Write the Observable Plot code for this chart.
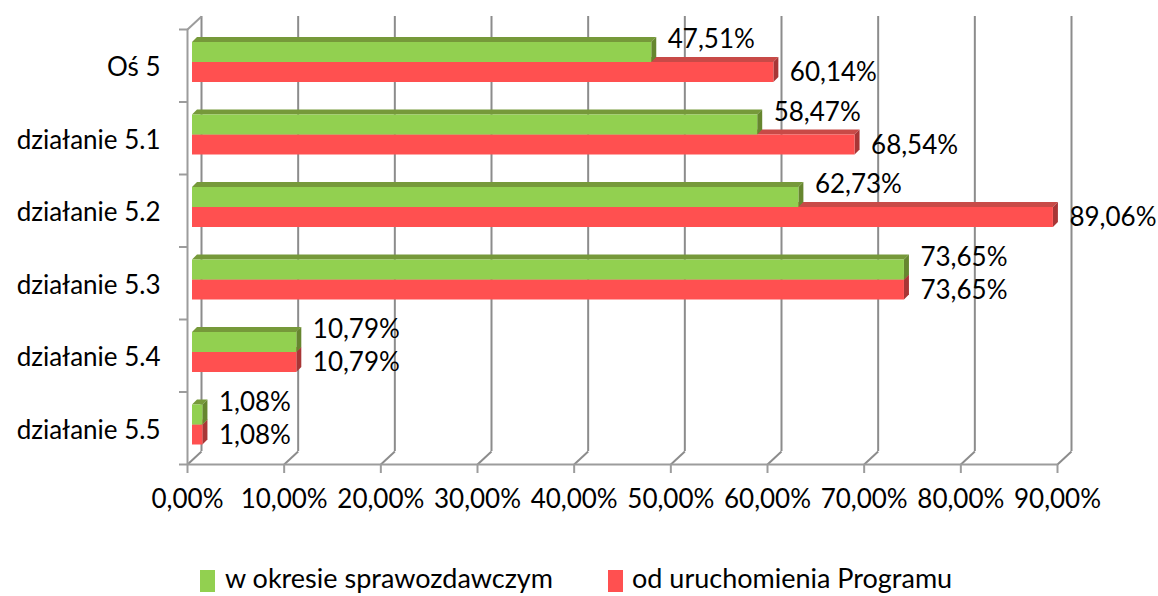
<!DOCTYPE html>
<html><head><meta charset="utf-8">
<script src="https://cdn.jsdelivr.net/npm/d3@7"></script>
<script src="https://cdn.jsdelivr.net/npm/@observablehq/plot@0.6"></script>
<style>
body{margin:0;background:#fff;font-family:Lato,sans-serif;}
#wrap{position:relative;width:1158px;height:596px;overflow:hidden;background:#fff;}
#chart{position:absolute;left:0;top:0;}
.sw{position:absolute;width:15px;height:22px;}
.lt{position:absolute;font-size:27px;line-height:32px;color:#000;white-space:nowrap;}
</style></head><body>
<div id="wrap"><div id="chart"></div><div id="legend"></div></div>
<script>
const categories = ["Oś 5","działanie 5.1","działanie 5.2","działanie 5.3","działanie 5.4","działanie 5.5"];
const inPeriod   = [0.4751, 0.5847, 0.6273, 0.7365, 0.1079, 0.0108];
const sinceStart = [0.6014, 0.6854, 0.8906, 0.7365, 0.1079, 0.0108];
const xTicks = [0, 0.1, 0.2, 0.3, 0.4, 0.5, 0.6, 0.7, 0.8, 0.9];
const seriesNames = ["w okresie sprawozdawczym", "od uruchomienia Programu"];
const seriesColors = ["#92d050", "#ff5050"];

const loc = d3.formatLocale({decimal: ",", thousands: " ", grouping: [3], currency: ["", " zł"]});
const fmt = loc.format(".2%");

const W = 1158, H = 530, mL = 188, mR = 100, mT = 29, mB = 66;
const pxX = (W - mL - mR) / 0.9;   // px per unit on x
const pxY = (H - mT - mB) / 6;     // px per category band
const depX = 14 / pxX, depY = 13 / pxY;      // wall depth
const bX = 5 / pxX, bY = 5 / pxY;            // bar depth
const gTop = 13 / pxY, mid = 33 / pxY, rBot = 53 / pxY;

const rows = categories.map((c, i) => ({i, cat: c, g: inPeriod[i], r: sinceStart[i]}));

function topFace(key, yy) {
  return rows.flatMap(d => [
    {z: d.i, y: d.i + yy, x1: 0, x2: d[key]},
    {z: d.i, y: d.i + yy - bY, x1: bX, x2: d[key] + bX}
  ]);
}
function sideFace(key, y1, y2) {
  return rows.flatMap(d => [
    {z: d.i, x: d[key], y1: d.i + y1, y2: d.i + y2},
    {z: d.i, x: d[key] + bX, y1: d.i + y1 - bY, y2: d.i + y2 - bY}
  ]);
}

const grid = "#8c8c8c", axisC = "#9c9c9c";
const chart = Plot.plot({
  width: W, height: H,
  marginLeft: mL, marginRight: mR, marginTop: mT, marginBottom: mB,
  x: {domain: [0, 0.9]},
  y: {domain: [0, 6], reverse: true},
  style: {fontFamily: "Lato, sans-serif", color: "#000", background: "transparent"},
  marks: [
    Plot.ruleX(xTicks, {x: d => d, y1: 0, y2: 6, dx: 13, dy: -13, stroke: grid, strokeWidth: 2}),
    Plot.link(xTicks, {x1: d => d, y1: 6, x2: d => d + depX, y2: 6 - depY, dx: -1, stroke: grid, strokeWidth: 2}),
    Plot.link([0], {x1: 0, y1: 0, x2: depX, y2: -depY, dx: -1, stroke: axisC, strokeWidth: 2}),
    Plot.ruleX([0], {x: d => d, y1: 0, y2: 6, dx: -1, stroke: axisC, strokeWidth: 2}),
    Plot.ruleY([6], {y: d => d, x1: 0, x2: 0.9, dx: -1, stroke: axisC, strokeWidth: 2}),
    Plot.axisX(xTicks, {tickSize: 9, tickPadding: 16, tickFormat: fmt, fontSize: 26, dx: -1, stroke: axisC, strokeWidth: 2, fill: "#000"}),
    Plot.axisY(d3.range(7), {tickSize: 9, tickFormat: () => "", stroke: axisC, strokeWidth: 2}),
    Plot.axisY(d3.range(6).map(i => i + 0.5), {tickSize: 0, tickPadding: 28, tickFormat: d => categories[Math.floor(d)], fontSize: 26, dy: 2, fill: "#000"}),
    // red series
    Plot.areaX(topFace("r", mid), {y: "y", x1: "x1", x2: "x2", z: "z", dx: 4, fill: "#c84a47"}),
    Plot.areaY(sideFace("r", mid, rBot), {x: "x", y1: "y1", y2: "y2", z: "z", dx: 4, fill: "#a83636"}),
    Plot.rect(rows, {x1: 0, x2: "r", y1: d => d.i + mid, y2: d => d.i + rBot, dx: 4, fill: seriesColors[1]}),
    // green series
    Plot.areaX(topFace("g", gTop), {y: "y", x1: "x1", x2: "x2", z: "z", dx: 4, fill: "#76993a"}),
    Plot.areaY(sideFace("g", gTop, mid), {x: "x", y1: "y1", y2: "y2", z: "z", dx: 4, fill: "#66862f"}),
    Plot.rect(rows, {x1: 0, x2: "g", y1: d => d.i + gTop, y2: d => d.i + mid, dx: 4, fill: seriesColors[0]}),
    // labels
    Plot.text(rows, {x: "g", y: d => d.i + 0.5, text: d => fmt(d.g), dx: 20, dy: -26, textAnchor: "start", fontSize: 26, fill: "#000"}),
    Plot.text(rows, {x: "r", y: d => d.i + 0.5, text: d => fmt(d.r), dx: 20, dy: 7, textAnchor: "start", fontSize: 26, fill: "#000"})
  ]
});
document.getElementById("chart").appendChild(chart);

const legend = document.getElementById("legend");
const legendPos = [{sw: 200, tx: 225}, {sw: 608, tx: 632}];
seriesNames.forEach((name, k) => {
  const sw = document.createElement("div");
  sw.className = "sw";
  sw.style.left = legendPos[k].sw + "px";
  sw.style.top = "570px";
  sw.style.background = seriesColors[k];
  legend.appendChild(sw);
  const t = document.createElement("div");
  t.className = "lt";
  t.style.left = legendPos[k].tx + "px";
  t.style.top = "562px";
  t.textContent = name;
  legend.appendChild(t);
});
</script>
</body></html>
